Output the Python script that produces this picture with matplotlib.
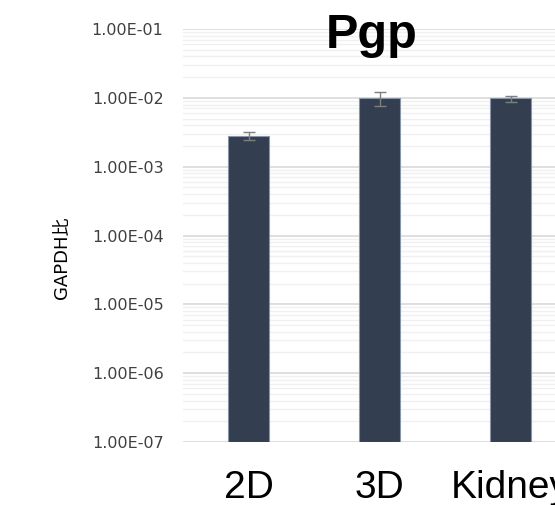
import numpy as np
import matplotlib.pyplot as plt
from matplotlib.ticker import LogLocator, FixedLocator

categories = ['2D', '3D', 'Kidney']
values = [2.8e-3, 9.8e-3, 9.8e-3]
errors = [0.38e-3, 2.3e-3, 1.0e-3]
ytick_vals = [1e-7, 1e-6, 1e-5, 1e-4, 1e-3, 1e-2, 1e-1]
ytick_labels = ['1.00E-07', '1.00E-06', '1.00E-05', '1.00E-04',
                '1.00E-03', '1.00E-02', '1.00E-01']

fig = plt.figure(figsize=(5.55, 5.05), dpi=100)
# plot area runs past the right edge, as in the cropped original
ax = fig.add_axes([183/555, 63/505, 393/555, 413/505])

x = np.arange(len(categories))
ax.bar(x, values, width=0.32, bottom=1e-7, color='#333f50',
       edgecolor='#8896a8', linewidth=0.8, zorder=3)
ax.errorbar(x, values, yerr=errors, fmt='none', ecolor='#7f7f7f',
            elinewidth=1, capsize=4, capthick=1, zorder=4)

ax.set_yscale('log')
ax.set_ylim(1e-7, 1e-1)
ax.set_xlim(-0.5, len(categories) - 0.5)
ax.yaxis.set_major_locator(FixedLocator(ytick_vals))
ax.set_yticklabels(ytick_labels)
ax.yaxis.set_minor_locator(LogLocator(base=10, subs=np.arange(2, 10), numticks=20))
ax.tick_params(axis='y', which='both', length=0, pad=14, labelsize=11.5,
               labelcolor='#404040')
ax.tick_params(axis='x', length=0, pad=20)
ax.set_xticks(x)
ax.set_xticklabels(categories, fontsize=28, family='Liberation Sans')

ax.grid(True, which='major', axis='y', color='#d9d9d9', linewidth=1.2, zorder=0)
ax.grid(True, which='minor', axis='y', color='#f0f0f0', linewidth=1.0, zorder=0)
for s in ax.spines.values():
    s.set_visible(False)

fig.text(372/555, 1 - 48/505, 'Pgp', ha='center', va='baseline',
         fontsize=35, fontweight='bold', family='Liberation Sans')
fig.text(62/555, 1 - 258/505, 'GAPDH比', rotation=90, ha='center', va='center',
         fontsize=13, family=['DejaVu Sans', 'Noto Sans CJK JP'])

fig.savefig('out.png', dpi=100)
